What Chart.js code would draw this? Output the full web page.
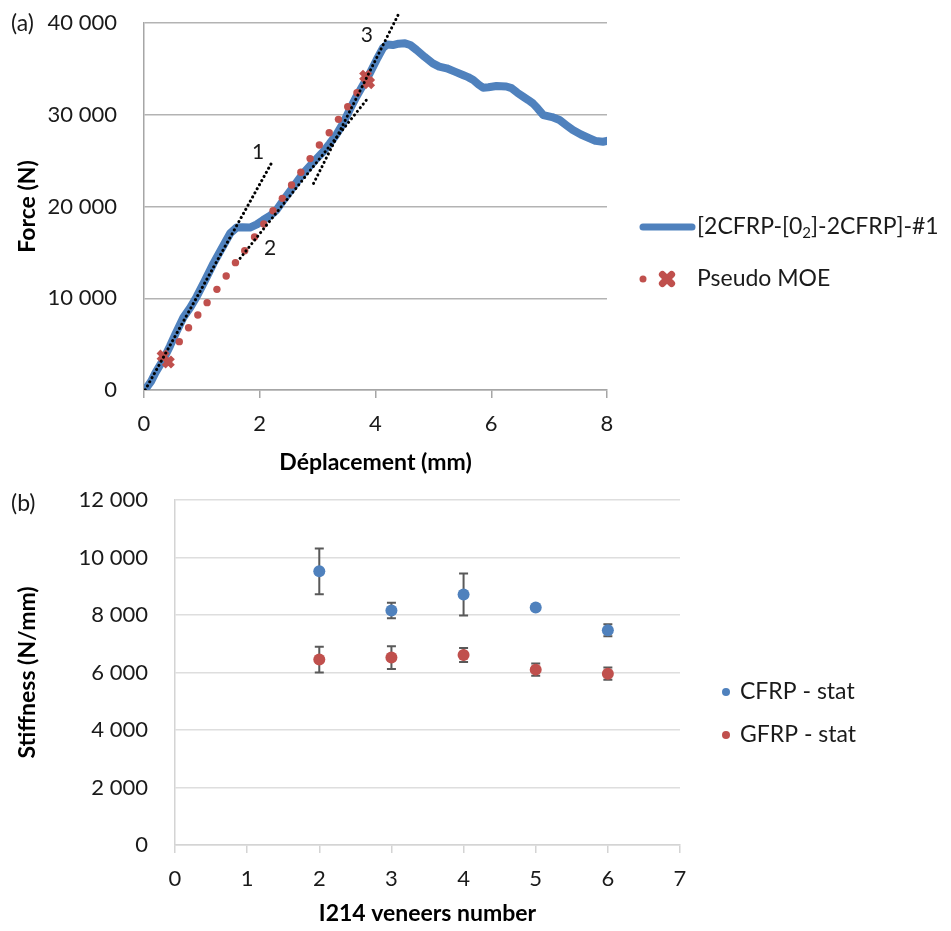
<!DOCTYPE html>
<html><head><meta charset="utf-8">
<script src="https://cdn.jsdelivr.net/npm/chart.js@4/dist/chart.umd.min.js"></script>
<style>
html,body{margin:0;padding:0;background:#fff;width:951px;height:931px;overflow:hidden;}
.wrap{position:absolute;left:0;width:951px;}
.panel{position:absolute;font-family:Lato,sans-serif;font-size:23px;color:#1a1a1a;line-height:26px;}
</style></head><body>
<div class="wrap" style="top:0;height:480px;"><canvas id="cA" width="951" height="480"></canvas></div>
<div class="wrap" style="top:480px;height:451px;"><canvas id="cB" width="951" height="451"></canvas></div>
<div class="panel" style="left:11px;top:9px;">(a)</div>
<div class="panel" style="left:11px;top:489px;">(b)</div>
<script>
// ---------- Panel (a) data ----------
const dispCurve = [0.00,0.05,0.12,0.20,0.33,0.45,0.55,0.68,0.80,0.91,1.05,1.20,1.35,1.49,1.60,1.70,1.83,1.95,2.06,2.18,2.29,2.41,2.55,2.75,2.95,3.10,3.21,3.33,3.44,3.55,3.67,3.80,3.90,4.02,4.13,4.20,4.30,4.40,4.51,4.60,4.71,4.85,4.99,5.10,5.23,5.37,5.51,5.60,5.69,5.78,5.86,5.95,6.09,6.26,6.35,6.45,6.55,6.64,6.72,6.80,6.90,7.05,7.18,7.30,7.41,7.55,7.70,7.80,7.93,8.00];
const forceCurve = [0,300,900,1900,3270,4800,6200,7900,9000,10170,11900,13800,15500,17080,17700,17750,17700,18050,18530,19000,19620,20700,21900,23600,25000,26000,26880,27900,29060,30500,31970,33400,34500,36000,37300,37650,37600,37750,37780,37600,37060,36300,35600,35250,35060,34700,34330,34100,33790,33300,32950,33000,33130,33080,32900,32400,31970,31600,31240,30700,29970,29750,29430,28850,28340,27850,27430,27150,27060,27150];
const moeDisp = [0.61,0.77,0.93,1.09,1.26,1.42,1.58,1.74,1.91,2.07,2.23,2.39,2.55,2.71,2.87,3.03,3.20,3.36,3.52,3.68];
const moeForce = [5270,6790,8170,9520,10970,12430,13880,15180,16680,18090,19540,20890,22340,23730,25220,26700,28040,29500,30880,32400];
const crossDisp = [0.33,0.42,3.83,3.88];
const crossForce = [3700,3050,34200,33500];
const tangent1 = [[0.02,0],[2.20,24700]];
const tangent2 = [[1.66,14350],[3.85,31660]];
const tangent3 = [[2.93,22520],[4.39,40870]];
const tangentLabels = ['1','2','3'];
const tangentLabelPos = [[1.97,25940],[2.18,15480],[3.85,38690]];
const xTicksA = [0,2,4,6,8];
const yTicksA = [0,10000,20000,30000,40000];
const seriesNamesA = ['[2CFRP-[0', '2', ']-2CFRP]-#1', 'Pseudo MOE'];

// ---------- Panel (b) data ----------
const veneers = [2,3,4,5,6];
const cfrpStiff = [9520,8160,8710,8260,7470];
const cfrpErr = [795,270,730,0,210];
const gfrpStiff = [6450,6520,6610,6100,5960];
const gfrpErr = [450,395,245,210,215];
const xTicksB = [0,1,2,3,4,5,6,7];
const yTicksB = [0,2000,4000,6000,8000,10000,12000];
const seriesNamesB = ['CFRP - stat','GFRP - stat'];

const BLUE = '#4f81bd', RED = '#c0504d', INK = '#1a1a1a';
const FONT = 'Lato, sans-serif';
const fmt = v => String(v).replace(/\B(?=(\d{3})+(?!\d))/g, ' ');
const pts = (xs, ys) => xs.map((x,i)=>({x, y: ys[i]}));
const segPts = seg => seg.map(p=>({x:p[0], y:p[1]}));
const noVPad = s => { s.paddingTop = 0; s.paddingBottom = 0; };

// ---------- Chart (a) ----------
const pluginA = {
  id: 'annotA',
  afterDraw(chart){
    const {ctx, scales:{x,y}} = chart;
    ctx.save();
    ctx.fillStyle = INK;
    ctx.font = '21px ' + FONT;
    ctx.textAlign = 'center'; ctx.textBaseline = 'middle';
    tangentLabels.forEach((t,i)=>{
      ctx.fillText(t, x.getPixelForValue(tangentLabelPos[i][0]), y.getPixelForValue(tangentLabelPos[i][1]));
    });
    // legend
    const lx = 640, ly1 = 227, ly2 = 279, tx = 697;
    ctx.strokeStyle = BLUE; ctx.lineWidth = 7; ctx.lineCap = 'round';
    ctx.beginPath(); ctx.moveTo(lx+3, ly1); ctx.lineTo(lx+52, ly1); ctx.stroke();
    ctx.textAlign = 'left'; ctx.fillStyle = INK;
    ctx.font = '23px ' + FONT;
    let cx = tx;
    ctx.fillText(seriesNamesA[0], cx, ly1); cx += ctx.measureText(seriesNamesA[0]).width;
    ctx.font = '15px ' + FONT;
    ctx.fillText(seriesNamesA[1], cx, ly1 + 6); cx += ctx.measureText(seriesNamesA[1]).width;
    ctx.font = '23px ' + FONT;
    ctx.fillText(seriesNamesA[2], cx, ly1);
    ctx.fillStyle = RED;
    ctx.beginPath(); ctx.arc(643, ly2, 3.5, 0, Math.PI*2); ctx.fill();
    ctx.strokeStyle = RED;
    Chart.helpers.drawPoint(ctx, {pointStyle:'crossRot', radius:6.5, borderWidth:5.5}, 667, ly2);
    ctx.fillStyle = INK;
    ctx.fillText(seriesNamesA[3], tx, ly2);
    ctx.restore();
  }
};

const tangentStyle = {type:'line', borderColor:'#000', borderWidth:3, borderDash:[0.1,4.6], borderCapStyle:'round', pointRadius:0, fill:false, order:1};

new Chart(document.getElementById('cA'), {
  type: 'scatter',
  data: {
    datasets: [
      {type:'line', label:'curve', data: pts(dispCurve, forceCurve), borderColor: BLUE, borderWidth: 8, borderJoinStyle:'round', borderCapStyle:'round', pointRadius:0, fill:false, order:4},
      {label:'Pseudo MOE', data: pts(moeDisp, moeForce), pointRadius:3.7, pointBackgroundColor: RED, pointBorderWidth:0, order:3},
      {label:'cross', data: pts(crossDisp, crossForce), pointStyle:'crossRot', pointRadius:6.5, pointBorderWidth:5.5, pointBorderColor: RED, order:2},
      Object.assign({label:'t1', data: segPts(tangent1)}, tangentStyle),
      Object.assign({label:'t2', data: segPts(tangent2)}, tangentStyle),
      Object.assign({label:'t3', data: segPts(tangent3), clip:false}, tangentStyle)
    ]
  },
  options: {
    responsive:false, animation:false, devicePixelRatio:1,
    layout:{padding:{left:0, top:23, right:344, bottom:0}},
    plugins:{legend:{display:false}, tooltip:{enabled:false}},
    scales:{
      x:{type:'linear', min:0, max:8,
        afterBuildTicks(s){ s.ticks = xTicksA.map(v=>({value:v})); },
        ticks:{font:{family:FONT, size:22}, color:INK, padding:13, maxRotation:0},
        grid:{drawOnChartArea:false, drawTicks:true, tickLength:8, color:'#a6a6a6', lineWidth:1.5},
        border:{display:true, color:'#a6a6a6', width:1.5},
        title:{display:true, text:'Déplacement (mm)', font:{family:FONT, size:23, weight:'bold'}, color:'#000', padding:{top:4,bottom:4}},
        afterFit(s){ s.height = 90; }
      },
      y:{type:'linear', min:0, max:40000,
        afterBuildTicks(s){ s.ticks = yTicksA.map(v=>({value:v})); },
        ticks:{font:{family:FONT, size:22}, color:INK, padding:27, callback: v => fmt(v)},
        grid:{color:'#b3b3b3', lineWidth:1.5, drawTicks:false},
        border:{display:true, color:'#a6a6a6', width:1.5},
        title:{display:true, text:'Force (N)', font:{family:FONT, size:23, weight:'bold'}, color:'#000', padding:{top:14,bottom:4}},
        afterFit(s){ s.width = 144; noVPad(s); }
      }
    }
  },
  plugins:[pluginA]
});

// ---------- Chart (b) ----------
const pluginB = {
  id: 'errB',
  beforeDatasetsDraw(chart){
    const {ctx, scales:{x,y}} = chart;
    ctx.save();
    ctx.strokeStyle = '#595959'; ctx.lineWidth = 2;
    [[cfrpStiff, cfrpErr],[gfrpStiff, gfrpErr]].forEach(([vals, errs])=>{
      veneers.forEach((n,i)=>{
        if(!errs[i]) return;
        const px = x.getPixelForValue(n);
        const t = y.getPixelForValue(vals[i]+errs[i]);
        const b = y.getPixelForValue(vals[i]-errs[i]);
        ctx.beginPath();
        ctx.moveTo(px, t); ctx.lineTo(px, b);
        ctx.moveTo(px-4.5, t); ctx.lineTo(px+4.5, t);
        ctx.moveTo(px-4.5, b); ctx.lineTo(px+4.5, b);
        ctx.stroke();
      });
    });
    ctx.restore();
  },
  afterDraw(chart){
    const {ctx} = chart;
    ctx.save();
    ctx.font = '23px ' + FONT; ctx.textBaseline = 'middle'; ctx.textAlign = 'left';
    const rows = [[BLUE, 212], [RED, 255]];
    rows.forEach(([c, yy], i)=>{
      ctx.fillStyle = c;
      ctx.beginPath(); ctx.arc(726, yy, 4, 0, Math.PI*2); ctx.fill();
      ctx.fillStyle = INK;
      ctx.fillText(seriesNamesB[i], 740, yy);
    });
    ctx.restore();
  }
};

new Chart(document.getElementById('cB'), {
  type: 'scatter',
  data: {
    datasets: [
      {label: seriesNamesB[0], data: pts(veneers, cfrpStiff), pointRadius:6, pointBackgroundColor: BLUE, pointBorderWidth:0},
      {label: seriesNamesB[1], data: pts(veneers, gfrpStiff), pointRadius:6, pointBackgroundColor: RED, pointBorderWidth:0}
    ]
  },
  options: {
    responsive:false, animation:false, devicePixelRatio:1,
    layout:{padding:{left:0, top:20, right:271, bottom:0}},
    plugins:{legend:{display:false}, tooltip:{enabled:false}},
    scales:{
      x:{type:'linear', min:0, max:7,
        afterBuildTicks(s){ s.ticks = xTicksB.map(v=>({value:v})); },
        ticks:{font:{family:FONT, size:22}, color:INK, padding:13, maxRotation:0},
        grid:{drawOnChartArea:false, drawTicks:true, tickLength:8, color:'#d4d4d4', lineWidth:1.5},
        border:{display:true, color:'#d4d4d4', width:1.5},
        title:{display:true, text:'I214 veneers number', font:{family:FONT, size:23, weight:'bold'}, color:'#000', padding:{top:4,bottom:4}},
        afterFit(s){ s.height = 86; }
      },
      y:{type:'linear', min:0, max:12000,
        afterBuildTicks(s){ s.ticks = yTicksB.map(v=>({value:v})); },
        ticks:{font:{family:FONT, size:22}, color:INK, padding:27, callback: v => fmt(v)},
        grid:{color:'#dedede', lineWidth:1.5, drawTicks:false},
        border:{display:true, color:'#d4d4d4', width:1.5},
        title:{display:true, text:'Stiffness (N/mm)', font:{family:FONT, size:23, weight:'bold'}, color:'#000', padding:{top:14,bottom:4}},
        afterFit(s){ s.width = 175; noVPad(s); }
      }
    }
  },
  plugins:[pluginB]
});
</script>
</body></html>
